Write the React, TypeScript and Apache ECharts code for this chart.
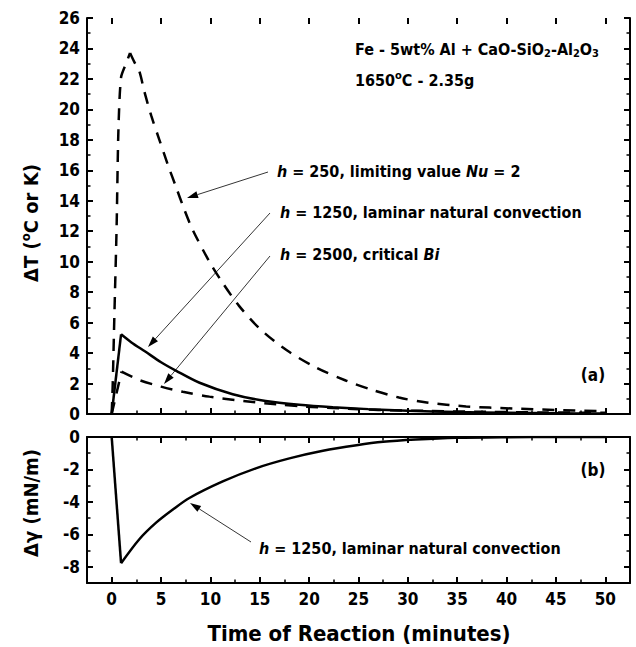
import React, { useEffect, useRef } from 'react';
import * as echarts from 'echarts';

// ---- data ----
const t250 = [0, 0.1, 0.27, 0.5, 0.68, 0.95, 1.45, 1.86, 2.3, 2.8, 3.3, 4.0, 4.83, 5.67, 6.52, 7.37, 8.2, 9.9, 11.25, 12.9, 15.0, 17.7, 20.7, 23.7, 26.4, 29.1, 31.9, 35.9, 40.6, 45, 50];
const dT250 = [0, 1.8, 6.4, 12.3, 18.6, 22.1, 23.0, 23.7, 23.1, 22.5, 21.2, 19.6, 18.0, 16.4, 14.9, 13.4, 12.1, 10.0, 8.6, 7.1, 5.6, 4.2, 3.05, 2.2, 1.58, 1.08, 0.75, 0.5, 0.36, 0.26, 0.18];

const t1250 = [0, 0.95, 2, 3.4, 5, 6.5, 8.9, 12.26, 15.6, 19.0, 22.4, 26, 30, 35, 40, 45, 50];
const dT1250 = [0, 5.23, 4.7, 4.1, 3.4, 2.85, 2.05, 1.3, 0.85, 0.6, 0.44, 0.32, 0.22, 0.13, 0.08, 0.05, 0.03];

const t2500 = [0, 1.0, 2.8, 5.0, 7.2, 9.9, 13.3, 16.7, 19.7, 23.1, 27, 32, 38, 44, 50];
const dT2500 = [0, 2.78, 2.23, 1.8, 1.46, 1.14, 0.85, 0.64, 0.48, 0.37, 0.27, 0.2, 0.14, 0.1, 0.08];

const tGamma = [0, 0.95, 2.8, 4.5, 6.2, 7.87, 11.25, 14.6, 18.0, 21.4, 24.8, 27.5, 30.8, 34.9, 40, 45, 50];
const dGamma = [0, -7.78, -6.3, -5.28, -4.47, -3.76, -2.74, -1.93, -1.32, -0.85, -0.51, -0.3, -0.16, -0.05, -0.01, 0, 0];

const xMajorTicks = [0, 5, 10, 15, 20, 25, 30, 35, 40, 45, 50];
const yGammaMajorTicks = [-8, -6, -4, -2, 0];

const X_MIN = -2.5;
const X_MAX = 52.5;

const FONT = "'DejaVu Sans Condensed', 'DejaVu Sans', sans-serif";

const zip = (xs: number[], ys: number[]) => xs.map((x, i) => [x, ys[i]]);

// split a curve at its extreme point (the end of the heating stage)
function splitAtPeak(xs: number[], ys: number[], neg = false) {
  let k = 0;
  ys.forEach((v, i) => {
    if (neg ? v < ys[k] : v > ys[k]) k = i;
  });
  const pts = zip(xs, ys);
  return { rise: pts.slice(0, k + 1), decay: pts.slice(k) };
}

const lineCol = '#000';
const axisLineStyle = { color: lineCol, width: 2 };
const labelStyle = { show: true, color: '#000', fontFamily: FONT, fontWeight: 'bold', fontSize: 17 };

function xAxisDef(grid: number, pos: string, kind: 'minor' | 'major', labels = false) {
  const ax: any = {
    type: 'value', gridIndex: grid, position: pos, min: X_MIN, max: X_MAX,
    splitLine: { show: false },
    axisLine: { show: kind === 'minor', onZero: false, lineStyle: axisLineStyle },
    axisLabel: { show: false },
  };
  if (kind === 'minor') {
    ax.interval = 2.5;
    ax.axisTick = { show: true, inside: true, length: 3.5, lineStyle: { color: lineCol, width: 1.5 } };
  } else {
    ax.axisTick = { show: true, inside: true, length: 6, customValues: xMajorTicks, lineStyle: { color: lineCol, width: 2 } };
    if (labels) ax.axisLabel = { ...labelStyle, margin: 7, customValues: xMajorTicks };
  }
  return ax;
}

function yGammaDef(pos: string, kind: 'minor' | 'major', labels = false) {
  const ax: any = {
    type: 'value', gridIndex: 1, position: pos, min: -9, max: 0,
    splitLine: { show: false },
    axisLine: { show: kind === 'minor', onZero: false, lineStyle: axisLineStyle },
    axisLabel: { show: false },
  };
  if (kind === 'minor') {
    ax.interval = 1;
    ax.axisTick = { show: true, inside: true, length: 3.5, lineStyle: { color: lineCol, width: 1.5 } };
  } else {
    ax.axisTick = { show: true, inside: true, length: 6, customValues: yGammaMajorTicks, lineStyle: { color: lineCol, width: 2 } };
    if (labels) ax.axisLabel = { ...labelStyle, margin: 7, customValues: yGammaMajorTicks };
  }
  return ax;
}

function yTopDef(pos: string, labels: boolean) {
  return {
    type: 'value', gridIndex: 0, position: pos, min: 0, max: 26, interval: 2,
    splitLine: { show: false },
    axisLine: { show: true, onZero: false, lineStyle: axisLineStyle },
    axisTick: { show: true, inside: true, length: 6, lineStyle: { color: lineCol, width: 2 } },
    minorTick: { show: true, splitNumber: 2, length: 3.5, lineStyle: { color: lineCol, width: 1.5 } },
    minorSplitLine: { show: false },
    axisLabel: labels ? { ...labelStyle, margin: 7 } : { show: false },
  };
}

const txt = { fontFamily: FONT, fontWeight: 'bold', fill: '#000' };
const rich = {
  b: { ...txt, fontSize: 16, lineHeight: 20 },
  i: { ...txt, fontSize: 16, lineHeight: 20, fontStyle: 'italic' },
  s: { ...txt, fontSize: 11, lineHeight: 11, verticalAlign: 'bottom' },
  p: { ...txt, fontSize: 11, lineHeight: 11, verticalAlign: 'top' },
  t: { ...txt, fontSize: 22, lineHeight: 26 },
  t2: { ...txt, fontSize: 20, lineHeight: 24 },
  tp: { ...txt, fontSize: 13, lineHeight: 13, verticalAlign: 'top' },
  a: { ...txt, fontSize: 17, lineHeight: 20 },
};

function label(text: string, x: number, y: number, align = 'left', rotation = 0) {
  return {
    type: 'text', x, y, rotation, z: 20,
    style: { text, rich, align, textAlign: align, verticalAlign: 'middle', textVerticalAlign: 'middle' },
  };
}

function arrow(x1: number, y1: number, x2: number, y2: number) {
  const dx = x2 - x1, dy = y2 - y1;
  const len = Math.sqrt(dx * dx + dy * dy);
  const ux = dx / len, uy = dy / len;
  const L = 11, W = 3.5;
  const bx = x2 - ux * L, by = y2 - uy * L;
  return [
    { type: 'line', z: 20, shape: { x1, y1, x2: bx, y2: by }, style: { stroke: '#000', lineWidth: 0.8 } },
    {
      type: 'polygon', z: 20,
      shape: { points: [[x2, y2], [bx - uy * W, by + ux * W], [bx + uy * W, by - ux * W]] },
      style: { fill: '#000' },
    },
  ];
}

export default function App() {
  const ref = useRef<HTMLDivElement>(null);
  useEffect(() => {
    if (!ref.current) return;
    const chart = echarts.init(ref.current, undefined, { renderer: 'svg' });
    const dashed = { color: lineCol, width: 2.5, type: [12, 9] };
    const solid = { color: lineCol, width: 2.5, type: 'solid' };

    const c250 = splitAtPeak(t250, dT250);
    const c1250 = splitAtPeak(t1250, dT1250);
    const c2500 = splitAtPeak(t2500, dT2500);
    const cG = splitAtPeak(tGamma, dGamma, true);

    const mk = (name: string, data: number[][], style: any, smooth: number | boolean, xi: number, yi: number) => ({
      name, type: 'line', xAxisIndex: xi, yAxisIndex: yi, data, symbol: 'none',
      lineStyle: style, z: 5, smooth,
    });

    const option: any = {
      animation: false,
      backgroundColor: '#fff',
      grid: [
        { left: 87, top: 18, width: 543, height: 396, outerBoundsMode: 'none' },
        { left: 87, top: 437, width: 543, height: 146, outerBoundsMode: 'none' },
      ],
      xAxis: [
        xAxisDef(0, 'bottom', 'minor'),
        xAxisDef(0, 'bottom', 'major'),
        xAxisDef(0, 'top', 'major'),
        xAxisDef(1, 'bottom', 'minor'),
        xAxisDef(1, 'bottom', 'major', true),
        xAxisDef(1, 'top', 'minor'),
        xAxisDef(1, 'top', 'major'),
      ],
      yAxis: [
        yTopDef('left', true),
        yTopDef('right', false),
        yGammaDef('left', 'minor'),
        yGammaDef('left', 'major', true),
        yGammaDef('right', 'minor'),
        yGammaDef('right', 'major'),
      ],
      series: [
        mk('h = 250 rise', c250.rise, dashed, 0.25, 0, 0),
        mk('h = 250', c250.decay, dashed, 0.3, 0, 0),
        mk('h = 1250 rise', c1250.rise, solid, false, 0, 0),
        mk('h = 1250', c1250.decay, solid, 0.3, 0, 0),
        mk('h = 2500 rise', c2500.rise, dashed, false, 0, 0),
        mk('h = 2500', c2500.decay, dashed, 0.3, 0, 0),
        mk('gamma fall', cG.rise, solid, false, 3, 2),
        mk('gamma', cG.decay, solid, 0.3, 3, 2),
      ],
      graphic: [
        label('{b|Fe - 5wt% Al + CaO-SiO}{s|2}{b|-Al}{s|2}{b|O}{s|3}', 355, 49),
        label('{b|1650}{p|o}{b|C - 2.35g}', 355, 80),
        label('{i|h}{b| = 250, limiting value }{i|Nu}{b| = 2}', 277, 171),
        label('{i|h}{b| = 1250, laminar natural convection}', 280, 212),
        label('{i|h}{b| = 2500, critical }{i|Bi}', 280, 254),
        label('{a|(a)}', 593, 375, 'center'),
        label('{a|(b)}', 593, 470, 'center'),
        label('{i|h}{b| = 1250, laminar natural convection}', 259, 548),
        label('{t2|ΔT (}{tp|o}{t2|C or K)}', 31, 223, 'center', Math.PI / 2),
        label('{t2|Δγ (mN/m)}', 31, 503, 'center', Math.PI / 2),
        label('{t|Time of Reaction (minutes)}', 359, 633, 'center'),
        ...arrow(268, 172, 187, 198),
        ...arrow(270, 213, 148, 347),
        ...arrow(270, 256, 164, 384),
        ...arrow(251, 542, 190, 503),
      ],
    };
    chart.setOption(option);
    return () => chart.dispose();
  }, []);
  return (
    <div
      ref={ref}
      style={{ position: 'absolute', left: 0, top: 0, width: 636, height: 647, background: '#fff' }}
    />
  );
}
